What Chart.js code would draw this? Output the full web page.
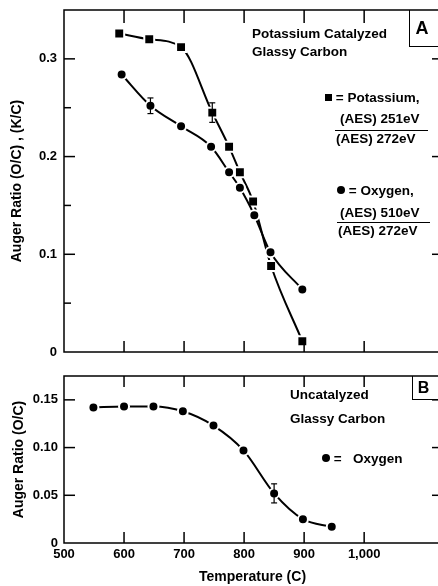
<!DOCTYPE html>
<html>
<head>
<meta charset="utf-8">
<script src="https://cdn.jsdelivr.net/npm/chart.js@4/dist/chart.umd.min.js"></script>
<style>
  html, body { margin: 0; padding: 0; background: #fff; overflow: hidden; width: 438px; height: 586px; }
  #wrap { position: relative; width: 438px; height: 586px; overflow: hidden; font-family: "Liberation Sans", Arial, sans-serif; font-weight: bold; color: #000; }
  canvas { position: absolute; left: 0; }
  .t { position: absolute; white-space: nowrap; font-size: 13.5px; line-height: 16px; }
  .frac { position: absolute; border-top: 1.5px solid #000; height: 0; }
  .box { position: absolute; border-left: 1.5px solid #000; border-bottom: 1.5px solid #000; box-sizing: border-box; font-size: 18px; text-align: center; padding-right: 6px; }
  .sq { display: inline-block; width: 7px; height: 7px; background: #000; vertical-align: 1px; }
  .dot { display: inline-block; width: 8px; height: 8px; border-radius: 50%; background: #000; vertical-align: 1px; }
</style>
</head>
<body>
<div id="wrap">
  <canvas id="chartA" width="442" height="362" style="top:0"></canvas>
  <canvas id="chartB" width="442" height="220" style="top:366px"></canvas>

  <div class="box" style="left:409px; top:10px; width:31px; height:37px; line-height:36px;">A</div>
  <div class="t" style="left:252px; top:26px;">Potassium Catalyzed</div>
  <div class="t" style="left:252px; top:44px;">Glassy Carbon</div>
  <div class="t" style="left:325px; top:90px;"><span class="sq"></span> = Potassium,</div>
  <div class="t" style="left:340px; top:111px;">(AES) 251eV</div>
  <div class="frac" style="left:335px; top:130px; width:93px;"></div>
  <div class="t" style="left:336px; top:131px;">(AES) 272eV</div>
  <div class="t" style="left:337px; top:183px;"><span class="dot"></span> = Oxygen,</div>
  <div class="t" style="left:340px; top:205px;">(AES) 510eV</div>
  <div class="frac" style="left:337px; top:222px; width:93px;"></div>
  <div class="t" style="left:338px; top:223px;">(AES) 272eV</div>

  <div class="box" style="left:412px; top:376px; width:28px; height:24px; line-height:23px; font-size:16px;">B</div>
  <div class="t" style="left:290px; top:387px;">Uncatalyzed</div>
  <div class="t" style="left:290px; top:411px;">Glassy Carbon</div>
  <div class="t" style="left:322px; top:451px;"><span class="dot"></span> =&nbsp;&nbsp; Oxygen</div>
</div>
<script>
// ---------- Data ----------
// Panel A: potassium catalyzed glassy carbon
const tempsPotassium = [592, 642, 695, 747, 775, 793, 815, 845, 897];
const potassiumRatio = [0.326, 0.320, 0.312, 0.245, 0.210, 0.184, 0.154, 0.088, 0.011];
const potassiumErr   = [null, null, null, 0.010, null, null, null, null, null];

const tempsOxygenA = [596, 644, 695, 745, 775, 793, 817, 844, 897];
const oxygenRatioA = [0.284, 0.252, 0.231, 0.210, 0.184, 0.168, 0.140, 0.102, 0.064];
const oxygenErrA   = [null, 0.008, null, null, null, null, null, null, null];

// Panel B: uncatalyzed glassy carbon
const tempsOxygenB = [549, 600, 649, 698, 749, 799, 850, 898, 946];
const oxygenRatioB = [0.142, 0.143, 0.143, 0.138, 0.123, 0.097, 0.052, 0.025, 0.017];
const oxygenErrB   = [null, null, null, null, null, null, 0.010, null, null];

// Tick values
const xTickValues   = [600, 700, 800, 900, 1000];
const yMajorTicksA  = [0.1, 0.2, 0.3];
const yMinorTicksA  = [0.05, 0.15, 0.25];
const yMajorTicksB  = [0.05, 0.10, 0.15];
const xLabelMax = 1000;

// ---------- Helpers ----------
const toXY = (xs, ys) => xs.map((x, i) => ({ x: x, y: ys[i] }));
const FONT = '"Liberation Sans", Arial, sans-serif';

const framePlugin = {
  id: 'frame',
  afterDatasetsDraw(chart, args, opts) {
    const { ctx, chartArea: a, scales: { x, y } } = chart;
    ctx.save();
    ctx.strokeStyle = '#000';
    ctx.lineWidth = 1.5;
    ctx.strokeRect(a.left, a.top, a.right - a.left, a.bottom - a.top);
    const line = (x1, y1, x2, y2) => { ctx.beginPath(); ctx.moveTo(x1, y1); ctx.lineTo(x2, y2); ctx.stroke(); };
    for (const v of opts.xTicks) {
      const px = x.getPixelForValue(v);
      line(px, a.bottom, px, a.bottom - 11);
      line(px, a.top, px, a.top + opts.topTickLen);
    }
    for (const v of opts.yMajor) {
      const py = y.getPixelForValue(v);
      line(a.left, py, a.left + 11, py);
      line(a.right, py, a.right - 9, py);
    }
    for (const v of (opts.yMinor || [])) {
      const py = y.getPixelForValue(v);
      line(a.left, py, a.left + 7, py);
    }
    // error bars
    ctx.lineWidth = 1.2;
    chart.data.datasets.forEach(ds => {
      if (!ds.errors) return;
      ds.data.forEach((p, i) => {
        const e = ds.errors[i];
        if (e == null) return;
        const px = x.getPixelForValue(p.x);
        const yt = y.getPixelForValue(p.y + e);
        const yb = y.getPixelForValue(p.y - e);
        line(px, yt, px, yb);
        line(px - 3, yt, px + 3, yt);
        line(px - 3, yb, px + 3, yb);
      });
    });
    ctx.restore();
  }
};

function lineDataset(xs, ys, errs, style, radius) {
  return {
    data: toXY(xs, ys),
    errors: errs,
    borderColor: '#000',
    borderWidth: 2,
    cubicInterpolationMode: 'monotone',
    pointStyle: style,
    pointRadius: radius,
    pointBackgroundColor: '#000',
    pointBorderColor: '#fff',
    pointBorderWidth: 2,
    fill: false
  };
}

const zeroPad = (s) => { s.paddingTop = 0; s.paddingBottom = 0; s.paddingLeft = 0; s.paddingRight = 0; };

const tickFont = { family: FONT, size: 13, weight: 'bold' };
const titleFont = { family: FONT, size: 14, weight: 'bold' };
const X_MIN = 500, X_MAX = 1128;

// ---------- Chart A ----------
new Chart(document.getElementById('chartA'), {
  type: 'line',
  data: {
    datasets: [
      lineDataset(tempsOxygenA, oxygenRatioA, oxygenErrA, 'circle', 5),
      lineDataset(tempsPotassium, potassiumRatio, potassiumErr, 'rect', 7)
    ]
  },
  options: {
    responsive: false,
    animation: false,
    layout: { autoPadding: false, padding: { top: 10, right: 1, left: 0, bottom: 0 } },
    plugins: {
      legend: { display: false },
      tooltip: { enabled: false },
      frame: { xTicks: xTickValues, yMajor: yMajorTicksA, yMinor: yMinorTicksA, topTickLen: 13 }
    },
    scales: {
      x: {
        type: 'linear', min: X_MIN, max: X_MAX,
        ticks: { display: false },
        grid: { display: false, drawTicks: false },
        border: { display: false },
        afterFit: (s) => { s.height = 10; zeroPad(s); }
      },
      y: {
        min: 0, max: 0.35,
        ticks: {
          stepSize: 0.1, includeBounds: false, padding: 7, color: '#000', font: tickFont,
          callback: (v) => v === 0 ? '0' : (Math.abs(v * 10 - Math.round(v * 10)) < 1e-6 ? v.toFixed(1) : '')
        },
        grid: { display: false, drawTicks: false },
        border: { display: false },
        title: { display: true, text: 'Auger Ratio (O/C) , (K/C)', color: '#000', font: titleFont, padding: { top: 9, bottom: 0 } },
        afterFit: (s) => { s.width = 64; zeroPad(s); }
      }
    }
  },
  plugins: [framePlugin]
});

// ---------- Chart B ----------
new Chart(document.getElementById('chartB'), {
  type: 'line',
  data: {
    datasets: [
      lineDataset(tempsOxygenB, oxygenRatioB, oxygenErrB, 'circle', 5)
    ]
  },
  options: {
    responsive: false,
    animation: false,
    layout: { autoPadding: false, padding: { top: 10, right: 1, left: 0, bottom: 0 } },
    plugins: {
      legend: { display: false },
      tooltip: { enabled: false },
      frame: { xTicks: xTickValues, yMajor: yMajorTicksB, yMinor: [], topTickLen: 11 }
    },
    scales: {
      x: {
        type: 'linear', min: X_MIN, max: X_MAX,
        ticks: {
          stepSize: 100, includeBounds: false, autoSkip: false, maxRotation: 0, padding: 4, color: '#000', font: tickFont,
          callback: (v) => v <= xLabelMax ? v.toLocaleString('en-US') : ''
        },
        grid: { display: false, drawTicks: false },
        border: { display: false },
        title: { display: true, text: 'Temperature (C)', color: '#000', font: titleFont, padding: { top: 0, bottom: 0 } },
        afterFit: (s) => { s.height = 43; zeroPad(s); }
      },
      y: {
        min: 0, max: 0.175,
        ticks: {
          stepSize: 0.05, includeBounds: false, padding: 6, color: '#000', font: tickFont,
          callback: (v) => v === 0 ? '0' : (v <= 0.1501 ? v.toFixed(2) : '')
        },
        grid: { display: false, drawTicks: false },
        border: { display: false },
        title: { display: true, text: 'Auger Ratio (O/C)', color: '#000', font: titleFont, padding: { top: 11, bottom: 0 } },
        afterFit: (s) => { s.width = 64; zeroPad(s); }
      }
    }
  },
  plugins: [framePlugin]
});
</script>
</body>
</html>
